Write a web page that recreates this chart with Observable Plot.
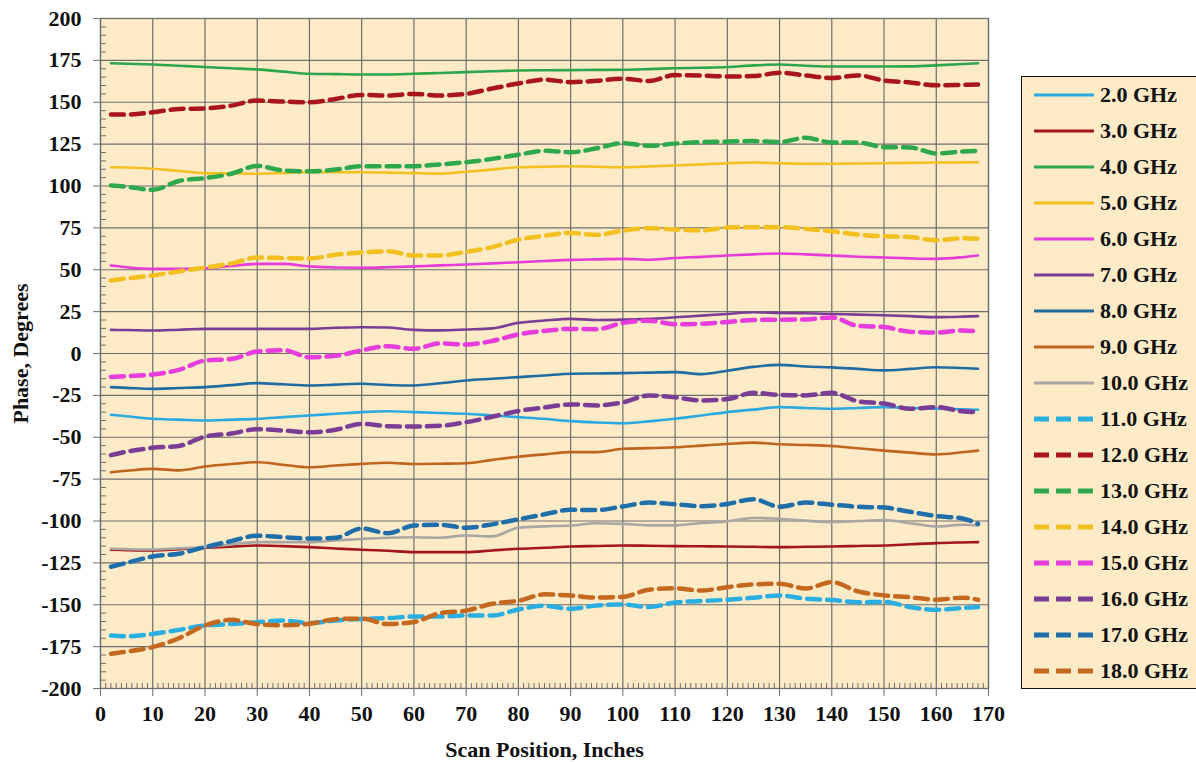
<!DOCTYPE html>
<html><head><meta charset="utf-8">
<script src="https://cdn.jsdelivr.net/npm/d3@7"></script>
<script src="https://cdn.jsdelivr.net/npm/@observablehq/plot@0.6"></script>
<style>
body{margin:0;background:#fff;}
#wrap{position:relative;width:1196px;height:762px;overflow:hidden;font-family:"Liberation Serif","Times New Roman",serif;font-weight:bold;}
#legend{position:absolute;left:1021px;top:76px;width:182px;height:613px;border:1.6px solid #111;background:#FDEBC8;box-sizing:border-box;padding-top:0px;}
.item{height:36px;display:flex;align-items:center;}
.item svg{margin-left:12px;margin-right:6px;flex:none;}
.item span{font-size:22px;color:#111;white-space:nowrap;}
</style></head><body><div id="wrap"></div>
<script>
// ---------- data ----------
const scanPositions = [2,5,10,15,20,25,30,35,40,45,50,55,60,65,70,75,80,85,90,95,100,105,110,115,120,125,130,135,140,145,150,155,160,165,168];
const seriesLabels = ["2.0 GHz","3.0 GHz","4.0 GHz","5.0 GHz","6.0 GHz","7.0 GHz","8.0 GHz","9.0 GHz","10.0 GHz","11.0 GHz","12.0 GHz","13.0 GHz","14.0 GHz","15.0 GHz","16.0 GHz","17.0 GHz","18.0 GHz"];
const xTickValues = d3.range(0, 171, 10);
const yTickValues = d3.range(-200, 201, 25);

const phase2  = [-36.6,-37.5,-39,-39.5,-40,-39.5,-39,-38,-37,-36,-35,-34.5,-35,-35.5,-36,-37,-38,-39,-40.4,-41.2,-41.6,-40.5,-39,-37,-35,-33.5,-32,-32.5,-33,-32.5,-32,-32.5,-33,-33.3,-33.6];
const phase3  = [-117.2,-117.4,-117.6,-116.8,-116,-115.3,-114.6,-115,-115.6,-116.4,-117.2,-117.8,-118.6,-118.6,-118.6,-117.6,-116.6,-116,-115.2,-114.9,-114.6,-114.8,-115,-115.1,-115.2,-115.4,-115.6,-115.4,-115.2,-114.9,-114.6,-113.9,-113.2,-112.8,-112.6];
const phase4  = [173.3,173,172.5,171.8,171,170.3,169.6,168.3,167,166.8,166.6,166.6,167,167.5,168,168.5,169,169.1,169.2,169.3,169.4,169.8,170.3,170.6,171,172,172.5,171.8,171.3,171.3,171.3,171.4,172,172.8,173.3];
const phase5  = [111.2,111,110.3,109,107.7,107.5,107.3,107.8,108.2,108.2,108.2,108,107.7,107.4,108.5,109.8,111.2,111.5,111.8,111.5,111.2,111.7,112.2,112.9,113.6,114,113.6,113.3,113.3,113.4,113.6,113.8,114,114.1,114.2];
const phase6  = [52.5,51.5,50.5,50.5,50.8,52.2,53.5,53.5,52,51.3,51.2,51.5,52,52.6,53.1,53.8,54.5,55.2,55.9,56.2,56.5,56,57,57.7,58.5,59.2,59.7,59.2,58.5,57.8,57.3,56.8,56.5,57.5,58.5];
const phase7  = [14.1,14,13.7,14.2,14.7,14.7,14.7,14.7,14.7,15.4,15.7,15.5,14.1,13.8,14.3,15,18.3,19.7,20.7,20,20.2,20.7,21.6,22.6,23.6,24.6,24.2,24,23.6,23.2,22.8,22.3,21.7,22,22.3];
const phase8  = [-20.1,-20.5,-21.1,-20.6,-20.1,-18.9,-17.7,-18.4,-19.1,-18.6,-18.1,-18.8,-19.1,-17.8,-16.1,-15.1,-14.1,-13.1,-12.1,-11.9,-11.7,-11.4,-11.1,-12.3,-10.3,-8,-6.8,-7.8,-8.3,-9.2,-10.1,-9.2,-8.2,-8.7,-9.1];
const phase9  = [-70.9,-70,-68.9,-69.8,-67.5,-66,-64.9,-66.4,-67.9,-66.9,-65.9,-65.2,-66,-65.8,-65.5,-63.5,-61.6,-60.2,-58.9,-58.9,-56.9,-56.5,-56,-55,-54,-53.2,-54.2,-54.6,-55.2,-56.6,-58,-59.2,-60.3,-59,-58];
const phase10 = [-116.6,-116.8,-117,-116.3,-115.6,-114,-112.6,-112.6,-112.6,-111.6,-110.7,-110,-109.7,-110,-108.7,-109.2,-104,-103.2,-102.7,-101.3,-101.7,-102.6,-102.6,-101.2,-100.2,-98.2,-98.7,-99.8,-100.6,-100,-99.5,-101.3,-103.3,-102.2,-102.7];
const phase11 = [-168.4,-168.8,-167.4,-165,-162.4,-161.5,-160.4,-159.4,-161,-159.4,-158.5,-158,-157,-157,-156.4,-156.4,-152.8,-150.6,-152.4,-150.4,-149.9,-151.4,-148.6,-147.8,-147,-145.8,-144.5,-146.4,-147.2,-148.5,-148.3,-151.4,-153,-152,-151.4];
const phase12 = [142.7,142.7,144,146,146.3,148,151,150.4,150,152,154.4,154,155,154,155,158.2,161.2,163.5,162,162.8,164,162.7,166.2,166,165.4,165.6,167.6,166,164.5,166,163,161.8,160.1,160.4,160.6];
const phase13 = [100.3,99.6,97.7,103,104.7,107.3,112,109.3,108.8,109.8,111.8,111.8,111.8,112.9,114.2,116.2,118.7,121,120.2,122.5,125.6,124,125.3,126.2,126.5,126.8,126.2,128.8,126,126,123.2,123,119.4,120.6,121];
const phase14 = [43.6,44.8,46.6,49,51.3,53.7,57.3,57,56.7,59,60.3,61,58.5,58.5,60.7,63.5,68,70.3,72,70.8,73.4,74.8,74,73.5,75.2,75.4,75.4,74.4,73,71,70,69.5,67.6,68.8,68.5];
const phase15 = [-14,-13.5,-12.5,-9.8,-4.2,-3.3,1.2,2,-2.2,-1.4,1.9,4.3,2.8,6,5.4,7.5,11.4,13.5,14.7,14.5,18.3,19.6,17.5,17.8,18.8,20,20.2,20.3,21.5,16.5,15.8,13,12.5,13.8,13];
const phase16 = [-60.7,-58.6,-56.3,-55.2,-49.6,-47.8,-45.2,-46,-47,-45.5,-42,-43.4,-43.6,-43.2,-41,-37.8,-34.3,-32.2,-30.4,-31,-29.2,-25,-26.2,-28,-27.2,-23.5,-24.7,-25,-23.5,-28.5,-29.9,-33,-32,-34.5,-35];
const phase17 = [-127.3,-125,-121.2,-119.5,-115.6,-112,-108.8,-109.7,-110.5,-110,-104.5,-107.3,-102.7,-102.3,-104,-102,-99,-96,-93.3,-93.5,-91.3,-89,-90,-91.2,-89.8,-87,-91.5,-89,-90.3,-91.5,-92,-94.5,-97,-98.5,-101.7];
const phase18 = [-179.2,-178,-175.3,-170,-162.4,-159,-161.6,-162.2,-161.4,-158.6,-158.3,-161.5,-160.3,-155,-153.5,-149.4,-147.6,-143.8,-144.5,-145.7,-145.3,-141,-140.2,-141.5,-139.5,-137.8,-137.5,-140.3,-136.5,-142,-144.4,-145.5,-147,-145.8,-147];

// ---------- styles ----------
const seriesColors = ["#29A9E0","#A3161C","#2CA64A","#F4C020","#E63BD8","#7A3D95","#1F6CA3","#BF641E","#A8A6A2",
                      "#29AEE2","#A8151B","#2DA84C","#F4C020","#E63BDD","#7A3D95","#1F6EAA","#C4681F"];
const seriesDashed = [false,false,false,false,false,false,false,false,false,true,true,true,true,true,true,true,true];
const phaseValues = [phase2,phase3,phase4,phase5,phase6,phase7,phase8,phase9,phase10,phase11,phase12,phase13,phase14,phase15,phase16,phase17,phase18];

const W = 1010, H = 762, mL = 100, mR = 22, mT = 18, mB = 74;
const pxPerY = (H - mT - mB) / 400, pxPerX = (W - mL - mR) / 170;
const minorX = d3.range(1, 170).filter(d => d % 10 !== 0);
const minorY = d3.range(-195, 200, 5).filter(d => d % 25 !== 0);
const font = '"Liberation Serif","Times New Roman",serif';

const lineMarks = seriesLabels.map((name, i) => {
  const rows = scanPositions.map((x, j) => ({x, y: phaseValues[i][j]}));
  return Plot.line(rows, {
    x: "x", y: "y", stroke: seriesColors[i],
    strokeWidth: seriesDashed[i] ? 4.5 : 2.6,
    strokeDasharray: seriesDashed[i] ? "13,7" : null,
    curve: "monotone-x"
  });
});

const chart = Plot.plot({
  width: W, height: H,
  marginLeft: mL, marginRight: mR, marginTop: mT, marginBottom: mB,
  style: {fontFamily: font, fontWeight: "bold", fontSize: "22px", color: "#111", background: "transparent", overflow: "visible"},
  x: {domain: [0, 170]},
  y: {domain: [-200, 200]},
  marks: [
    Plot.frame({fill: "#FDEBC8"}),
    Plot.gridX(xTickValues, {stroke: "#6e6e6e", strokeOpacity: 1, strokeWidth: 1.2}),
    Plot.gridY(yTickValues, {stroke: "#6e6e6e", strokeOpacity: 1, strokeWidth: 1.2}),
    Plot.ruleX(minorX, {x: d => d, y1: -200, y2: -200 + 5 / pxPerY, stroke: "#6e6e6e", strokeWidth: 1}),
    Plot.ruleY(minorY, {y: d => d, x1: 0, x2: 6 / pxPerX, stroke: "#6e6e6e", strokeWidth: 1}),
    ...lineMarks,
    Plot.axisY(yTickValues, {tickSize: 7, tickPadding: 12, stroke: "#6e6e6e", fill: "#111", fontSize: 22,
      tickFormat: d => String(d), label: "Phase, Degrees", labelArrow: "none", labelAnchor: "center", labelOffset: 88}),
    Plot.axisX(xTickValues, {tickSize: 8, tickPadding: 9, stroke: "#6e6e6e", fill: "#111", fontSize: 22,
      tickFormat: d => String(d), label: "Scan Position, Inches", labelArrow: "none", labelAnchor: "center", labelOffset: 68}),
    Plot.frame({stroke: "#6e6e6e", strokeWidth: 1.3})
  ]
});
chart.style.position = "absolute";
chart.style.left = "0px";
chart.style.top = "0px";
const wrap = document.getElementById("wrap");
wrap.appendChild(chart);

// ---------- legend ----------
const legend = document.createElement("div");
legend.id = "legend";
seriesLabels.forEach((name, i) => {
  const item = document.createElement("div");
  item.className = "item";
  const dash = seriesDashed[i] ? 'stroke-dasharray="15,7"' : "";
  const sw = seriesDashed[i] ? 5 : 3;
  item.innerHTML = `<svg width="60" height="10"><line x1="0" x2="60" y1="5" y2="5" stroke="${seriesColors[i]}" stroke-width="${sw}" ${dash}/></svg><span>${name}</span>`;
  legend.appendChild(item);
});
wrap.appendChild(legend);
</script></body></html>
